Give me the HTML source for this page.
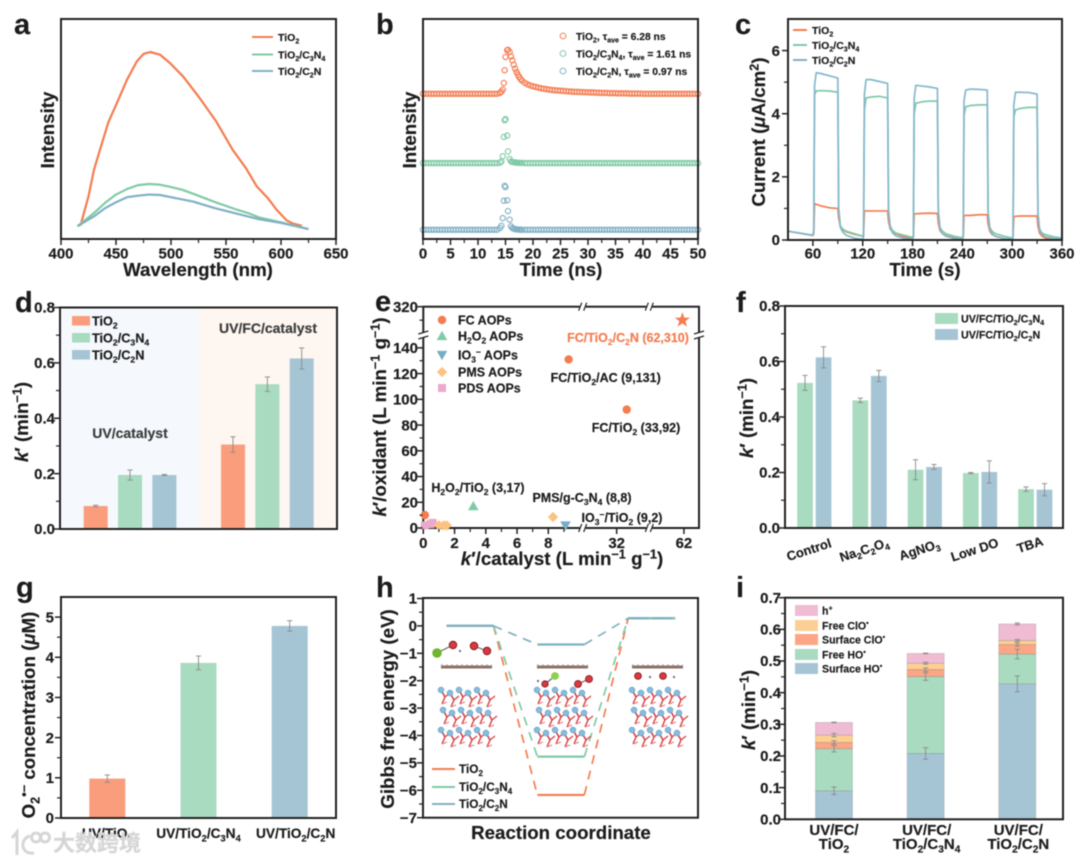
<!DOCTYPE html>
<html lang="en">
<head>
<meta charset="utf-8">
<title>TiO2 composite figure</title>
<style>
html,body{margin:0;padding:0;background:#fff;width:1080px;height:862px;overflow:hidden}
#figure{display:block;filter:blur(.4px)}
#figure text{font-family:"Liberation Sans","Noto Sans CJK SC",sans-serif;font-weight:700;fill:#1c1c1c;stroke:#1c1c1c;stroke-width:.18px}
</style>
</head>
<body>
<svg id="figure" xmlns="http://www.w3.org/2000/svg" width="1080" height="862" viewBox="0 0 1080 862"></svg>
<script>
/* ---------- shared ---------- */
const ORANGE='#f47c50', GREEN='#80caa6', BLUE='#80b0c5';
const BAR_O='#fa9d7c', BAR_G='#a8dbc0', BAR_B='#a6c5d4';

/* ---------- panel a data ---------- */
const aWlTiO2=[415,418,420,425,430,435,443,451,460,469,475,481,490,499,511,526,541,556,568,578,588,596,605,611,619];
const aTiO2=[6,6.5,10.3,19.4,31.5,39.8,53,62,72.4,80.8,84.1,85,83.8,80,73.9,64.1,53.5,40.6,32.3,23.9,18.6,13.3,8.5,7,6];
const aWlC3N4=[415,430,440,450,460,470,480,490,500,510,520,540,560,570,580,600,625];
const aC3N4=[5.8,11.8,16.4,20.2,22.7,24.5,25,24.7,23.6,22.4,20.6,16.8,13.3,11.8,9.8,7.6,4.5];
const aWlC2N=[415,430,440,450,460,470,480,490,500,520,540,560,580,600,625];
const aC2N=[5.8,10.3,14,16.7,19,19.7,20.2,20,19,17,14,11.5,9,7.3,4.5];
const aTicks=[400,450,500,550,600,650];

/* ---------- panel b data ---------- */
const bTimes=[0,0.5,1,1.5,2,2.5,3,3.5,4,4.5,5,5.5,6,6.5,7,7.5,8,8.5,9,9.5,10,10.5,11,11.5,12,12.5,13,13.5,
14,14.25,14.5,14.7,14.85,15,15.3,15.45,15.75,16,16.25,16.5,16.75,17,17.25,17.5,17.75,18,
18.5,19,19.5,20,20.5,21,21.5,22,22.5,23,23.5,24,24.5,25,25.5,26,26.5,27,27.5,28,28.5,29,29.5,30,30.5,31,31.5,32,32.5,33,33.5,34,34.5,35,
35.5,36,36.5,37,37.5,38,38.5,39,39.5,40,40.5,41,41.5,42,42.5,43,43.5,44,44.5,45,45.5,46,46.5,47,47.5,48,48.5,49,49.5,50];
const bTiO2=[66,66,66,66,66,66,66,66,66,66,66,66,66,66,66,66,66,66,66,66,66,66,66,66,66,66,66,66,
66.4,67,67.9,70.9,76.7,82.7,85.8,86,85,83,81.2,79.2,77.4,75.9,74.7,73.6,72.7,72,
71,70.3,69.8,69.4,69.1,68.8,68.5,68.3,68.1,67.9,67.7,67.6,67.5,67.4,67.3,67.2,67.1,67,66.9,66.9,66.8,66.8,66.7,66.7,66.6,66.6,66.5,66.5,66.4,66.4,66.4,66.3,66.3,66.3,
66.2,66.2,66.2,66.2,66.1,66.1,66.1,66.1,66.1,66,66,66,66,66,66,66,66,66,66,66,66,66,66,66,66,66,66,66,66,66];
const bC3N4=[34.5,34.5,34.5,34.5,34.5,34.5,34.5,34.5,34.5,34.5,34.5,34.5,34.5,34.5,34.5,34.5,34.5,34.5,34.5,34.5,34.5,34.5,34.5,34.5,34.5,34.5,34.5,34.5,
34.7,35.2,37.6,46.4,54,54.5,47,39.8,36.4,35.3,35,34.9,34.8,34.7,34.7,34.6,34.6,34.6,
34.5,34.5,34.5,34.5,34.5,34.5,34.5,34.5,34.5,34.5,34.5,34.5,34.5,34.5,34.5,34.5,34.5,34.5,34.5,34.5,34.5,34.5,34.5,34.5,34.5,34.5,34.5,34.5,34.5,34.5,34.5,34.5,34.5,34.5,
34.5,34.5,34.5,34.5,34.5,34.5,34.5,34.5,34.5,34.5,34.5,34.5,34.5,34.5,34.5,34.5,34.5,34.5,34.5,34.5,34.5,34.5,34.5,34.5,34.5,34.5,34.5,34.5,34.5,34.5];
const bC2N=[4.2,4.2,4.2,4.2,4.2,4.2,4.2,4.2,4.2,4.2,4.2,4.2,4.2,4.2,4.2,4.2,4.2,4.2,4.2,4.2,4.2,4.2,4.2,4.2,4.2,4.2,4.2,4.2,
5,6,9.5,17.4,24.2,23.6,17.6,12.7,8.8,5.8,5,4.7,4.5,4.4,4.3,4.3,4.2,4.2,
4.2,4.2,4.2,4.2,4.2,4.2,4.2,4.2,4.2,4.2,4.2,4.2,4.2,4.2,4.2,4.2,4.2,4.2,4.2,4.2,4.2,4.2,4.2,4.2,4.2,4.2,4.2,4.2,4.2,4.2,4.2,4.2,4.2,4.2,
4.2,4.2,4.2,4.2,4.2,4.2,4.2,4.2,4.2,4.2,4.2,4.2,4.2,4.2,4.2,4.2,4.2,4.2,4.2,4.2,4.2,4.2,4.2,4.2,4.2,4.2,4.2,4.2,4.2,4.2];
const bTicks=[0,5,10,15,20,25,30,35,40,45,50];

/* ---------- panel c data ---------- */
const cTimes=[30,60,
61,62,64,70,80,90,91,93,96,100,110,120,
121,122,124,130,140,150,151,153,156,160,170,180,
181,182,184,190,200,210,211,213,216,220,230,240,
241,242,244,250,260,270,271,273,276,280,290,300,
301,302,304,310,320,330,331,333,336,340,350,360];
const cTiO2=[.28,.14,
.2,1.15,1.13,1.08,1.02,1,.7,.42,.32,.26,.18,.12,
.15,.92,.92,.92,.92,.92,.6,.35,.26,.2,.1,.05,
.1,.82,.83,.84,.85,.84,.55,.3,.2,.14,.07,.03,
.08,.77,.78,.78,.8,.8,.5,.28,.17,.12,.05,.02,
.08,.74,.75,.76,.76,.76,.45,.22,.12,.06,.02,0];
const cC3N4=[.28,.15,
.3,4.6,4.72,4.73,4.72,4.68,1,.45,.35,.28,.2,.12,
.2,4.1,4.5,4.53,4.55,4.5,1,.45,.3,.22,.15,.08,
.15,4,4.33,4.37,4.4,4.4,.95,.4,.28,.2,.12,.07,
.12,3.95,4.22,4.26,4.28,4.28,.9,.4,.27,.2,.12,.06,
.1,3.9,4.12,4.17,4.2,4.2,.85,.35,.22,.17,.1,.06];
const cC2N=[.28,.15,
.3,4.9,5.3,5.27,5.2,5.13,1,.4,.25,.15,.06,.02,
.1,4.6,5.08,5.08,5.02,4.96,.95,.38,.22,.13,.05,.02,
.1,4.5,4.9,4.88,4.85,4.8,.9,.35,.2,.12,.05,.02,
.1,4.4,4.75,4.78,4.77,4.75,.88,.33,.2,.11,.05,.02,
.1,4.3,4.68,4.68,4.67,4.62,.85,.3,.18,.1,.05,.04];
const cXTicks=[60,120,180,240,300,360];
const cYTicks=[0,2,4,6];

/* ---------- panel d data ---------- */
const dSlots=[0,1,2,4,5,6];
const dValues=[.083,.195,.195,.305,.523,.616];
const dErrors=[.003,.018,.002,.028,.026,.038];
const dSeriesNames=['uv-tio2','uv-tio2-c3n4','uv-tio2-c2n','fc-tio2','fc-tio2-c3n4','fc-tio2-c2n'];
const dYTicks=[0,.2,.4,.6,.8];

/* ---------- panel e data ---------- */
const eFcX=[0.1,9.3,36.5], eFcY=[10,131,92];
const eStarX=[61.3], eStarY=[310];
const eH2o2X=[3.2], eH2o2Y=[17];
const eIo3X=[9.1], eIo3Y=[2];
const ePmsX=[8.3,1,1.3,1.5], ePmsY=[8.5,2,2,2];
const ePdsX=[0.1,0.45,0.6], ePdsY=[2,3,4];
const eXTicks=[0,2,4,6,8,32,62];
const eYTicks=[0,20,40,60,80,100,120,140,320];

/* ---------- panel f data ---------- */
const fCategories=['Control','Na_{2}C_{2}O_{4}','AgNO_{3}','Low DO','TBA'];
const fC3N4=[.523,.46,.21,.198,.14];
const fC3N4Err=[.027,.008,.036,.002,.008];
const fC2N=[.615,.548,.22,.202,.138];
const fC2NErr=[.038,.02,.009,.04,.022];
const fYTicks=[0,.2,.4,.6,.8];

/* ---------- panel g data ---------- */
const gCategories=['UV/TiO_{2}','UV/TiO_{2}/C_{3}N_{4}','UV/TiO_{2}/C_{2}N'];
const gValues=[.98,3.86,4.78];
const gErrors=[.09,.17,.13];
const gYTicks=[0,1,2,3,4,5];

/* ---------- panel h data ---------- */
const hStates=[0,1,2];
const hTiO2=[0,-6.17,.28];
const hC3N4=[0,-4.77,.28];
const hC2N=[0,-.68,.28];
const hYTicks=[1,0,-1,-2,-3,-4,-5,-6,-7];
const hYLabels=['1','0','−1','−2','−3','−4','−5','−6','−7'];

/* ---------- panel i data ---------- */
const iCategories=[['UV/FC/','TiO_{2}'],['UV/FC/','TiO_{2}/C_{3}N_{4}'],['UV/FC/','TiO_{2}/C_{2}N']];
const iSurfaceHO=[.09,.208,.428];
const iFreeHO=[.133,.243,.094];
const iSurfaceClO=[.02,.022,.03];
const iFreeClO=[.023,.02,.013];
const iHole=[.04,.031,.052];
const iErrSurfaceHO=[.012,.018,.025];
const iErrFreeHO=[.01,.012,.015];
const iErrSurfaceClO=[.005,.005,.005];
const iErrFreeClO=[.005,.003,.003];
const iErrHole=[.001,.001,.003];
const iYTicks=[0,.1,.2,.3,.4,.5,.6,.7];

/* ---------- helpers ---------- */
const svg=document.getElementById('figure');
const NS='http://www.w3.org/2000/svg';
function mk(tag,attrs,parent){
  const el=document.createElementNS(NS,tag);
  for(const k in attrs) el.setAttribute(k,attrs[k]);
  if(parent) parent.appendChild(el);
  return el;
}
function scale(d0,d1,r0,r1){return v=>r0+(v-d0)*(r1-r0)/(d1-d0);}
function group(parent,name){
  const g=mk('g',{},parent);
  
  
  return g;
}
function T(parent,name,x,y,str,size,o){
  o=o||{};
  const el=mk('text',{x:x,y:y,'font-size':size,'text-anchor':o.anchor||'start'},parent);
  
  
  if(o.fill){el.style.fill=o.fill;el.style.stroke=o.fill;}
  if(o.rot!==undefined) el.setAttribute('transform','rotate('+o.rot+' '+x+' '+y+')');
  const re=/_\{(.*?)\}|\^\{(.*?)\}|\*\{(.*?)\}|([^_^*]+)/g;
  let m,off=0;
  while((m=re.exec(str))){
    const ts=mk('tspan',{},el);
    let target=0;
    if(m[1]!==undefined){ts.textContent=m[1];ts.setAttribute('font-size',size*.68);target=size*.24;}
    else if(m[2]!==undefined){ts.textContent=m[2];ts.setAttribute('font-size',size*.68);target=-size*.36;}
    else if(m[3]!==undefined){ts.textContent=m[3];ts.setAttribute('font-style','italic');}
    else ts.textContent=m[4];
    if(target!==off) ts.setAttribute('dy',target-off);
    off=target;
  }
  return el;
}
function L(parent,name,x1,y1,x2,y2,stroke,w,dash){
  const el=mk('line',{x1:x1,y1:y1,x2:x2,y2:y2,stroke:stroke,'stroke-width':w},parent);
  if(dash) el.setAttribute('stroke-dasharray',dash);
  
  
  return el;
}
function R(parent,name,x,y,w,h,fill){
  const el=mk('rect',{x:x,y:y,width:w,height:h,fill:fill},parent);
  
  
  return el;
}
function frame(parent,x0,y0,x1,y1){
  const el=mk('rect',{x:x0,y:y0,width:x1-x0,height:y1-y0,fill:'none',stroke:'#222','stroke-width':2},parent);
  
  
  return el;
}
function xAxis(g,sx,majors,labels,minors,yBase,labelY,size){
  majors.forEach((v,i)=>{
    L(g,'x-tick',sx(v),yBase,sx(v),yBase+5,'#222',1.5);
    if(labels) T(g,'x-tick-label',sx(v),labelY,labels[i],size||15,{anchor:'middle'});
  });
  (minors||[]).forEach(v=>L(g,'x-minor-tick',sx(v),yBase,sx(v),yBase+3,'#222',1.2));
}
function yAxis(g,sy,majors,labels,minors,xBase,labelX,size){
  majors.forEach((v,i)=>{
    L(g,'y-tick',xBase,sy(v),xBase-5,sy(v),'#222',1.5);
    T(g,'y-tick-label',labelX,sy(v)+5.2,labels[i],size||15,{anchor:'end'});
  });
  (minors||[]).forEach(v=>L(g,'y-minor-tick',xBase,sy(v),xBase-3,sy(v),'#222',1.2));
}
function poly(g,name,xs,ys,sx,sy,color,w){
  const pts=xs.map((x,i)=>sx(x).toFixed(2)+','+sy(ys[i]).toFixed(2)).join(' ');
  const el=mk('polyline',{points:pts,fill:'none',stroke:color,'stroke-width':w,'stroke-linejoin':'round'},g);
  
  
  return el;
}
function errBar(g,name,x,yLo,yHi){
  const e=group(g,name);
  L(e,'error-stem',x,yLo,x,yHi,'#8a8a8a',.9);
  L(e,'error-cap-top',x-2.6,yHi,x+2.6,yHi,'#8a8a8a',.9);
  L(e,'error-cap-bottom',x-2.6,yLo,x+2.6,yLo,'#8a8a8a',.9);
}
function bar(g,name,cx,w,yTop,yBase,fill){
  return R(g,name,cx-w/2,yTop,w,yBase-yTop,fill);
}
function legendLine(g,name,x1,x2,y,color,label,tx,size){
  const e=group(g,name);
  L(e,'legend-swatch',x1,y,x2,y,color,2);
  T(e,'legend-label',tx,y+size*.36,label,size);
}
function legendBox(g,name,x,y,w,h,color,label,tx,size){
  const e=group(g,name);
  R(e,'legend-swatch',x,y,w,h,color);
  T(e,'legend-label',tx,y+h/2+size*.36,label,size);
}
function marker(g,name,type,x,y,s,fill){
  let el;
  if(type==='circle') el=mk('circle',{cx:x,cy:y,r:s,fill:fill},g);
  else if(type==='square') el=mk('rect',{x:x-s,y:y-s,width:2*s,height:2*s,fill:fill},g);
  else{
    let p;
    if(type==='up') p=[[0,-s*1.1],[s*1.1,s*.85],[-s*1.1,s*.85]];
    else if(type==='down') p=[[0,s*1.1],[s*1.1,-s*.85],[-s*1.1,-s*.85]];
    else if(type==='diamond') p=[[0,-s*1.2],[s*1.2,0],[0,s*1.2],[-s*1.2,0]];
    else{
      p=[];
      for(let i=0;i<10;i++){
        const r=i%2?s*.5:s*1.25,a=-Math.PI/2+i*Math.PI/5;
        p.push([r*Math.cos(a),r*Math.sin(a)]);
      }
    }
    el=mk('polygon',{points:p.map(q=>(x+q[0]).toFixed(2)+','+(y+q[1]).toFixed(2)).join(' '),fill:fill},g);
  }
  
  
  return el;
}
const LET=29, TITLE=18.7;

/* ---------- panel a ---------- */
(function(){
  const g=group(svg,'panel-a');
  const sx=scale(400,650,61,336), sy=scale(0,100,239,19);
  T(g,'panel-label-a',14,34,'a',LET);
  poly(g,'series-tio2',aWlTiO2,aTiO2,sx,sy,ORANGE,2.2);
  poly(g,'series-tio2-c3n4',aWlC3N4,aC3N4,sx,sy,GREEN,2.2);
  poly(g,'series-tio2-c2n',aWlC2N,aC2N,sx,sy,BLUE,2.2);
  frame(g,61,19,336,239);
  xAxis(g,sx,aTicks,aTicks.map(String),[425,475,525,575,625],240,258.5);
  T(g,'x-axis-title',198,276,'Wavelength (nm)',TITLE,{anchor:'middle'});
  T(g,'y-axis-title',54,130,'Intensity',TITLE,{anchor:'middle',rot:-90});
  legendLine(g,'legend-tio2',252,273,37,ORANGE,'TiO_{2}',278,10.5);
  legendLine(g,'legend-tio2-c3n4',252,273,54.5,GREEN,'TiO_{2}/C_{3}N_{4}',278,10.5);
  legendLine(g,'legend-tio2-c2n',252,273,71,BLUE,'TiO_{2}/C_{2}N',278,10.5);
})();

/* ---------- panel b ---------- */
(function(){
  const g=group(svg,'panel-b');
  const sx=scale(0,50,423,698), sy=scale(0,100,239,19);
  T(g,'panel-label-b',376,34,'b',LET);
  function scatter(name,vals,color){
    const s=group(g,name);
    bTimes.forEach((t,i)=>{
      const c=mk('circle',{cx:sx(t),cy:sy(vals[i]),r:2.6,fill:'none',stroke:color,'stroke-width':1.15},s);
      
      
    });
  }
  scatter('series-tio2',bTiO2,ORANGE);
  scatter('series-tio2-c3n4',bC3N4,GREEN);
  scatter('series-tio2-c2n',bC2N,BLUE);
  frame(g,423,19,698,239);
  xAxis(g,sx,bTicks,bTicks.map(String),[2.5,7.5,12.5,17.5,22.5,27.5,32.5,37.5,42.5,47.5],240,258.5);
  T(g,'x-axis-title',561,276,'Time (ns)',TITLE,{anchor:'middle'});
  T(g,'y-axis-title',416,130,'Intensity',TITLE,{anchor:'middle',rot:-90});
  [['legend-tio2',36,ORANGE,'TiO_{2}, τ_{ave} = 6.28 ns'],
   ['legend-tio2-c3n4',53.5,GREEN,'TiO_{2}/C_{3}N_{4}, τ_{ave} = 1.61 ns'],
   ['legend-tio2-c2n',71,BLUE,'TiO_{2}/C_{2}N, τ_{ave} = 0.97 ns']].forEach(d=>{
    const e=group(g,d[0]);
    const c=mk('circle',{cx:563,cy:d[1],r:2.9,fill:'none',stroke:d[2],'stroke-width':1},e);
    
    
    T(e,'legend-label',576,d[1]+3.8,d[3],10.3);
  });
})();

/* ---------- panel c ---------- */
(function(){
  const g=group(svg,'panel-c');
  const sx=scale(30,360,788,1062), sy=scale(0,7,240,19);
  T(g,'panel-label-c',735,34,'c',LET);
  poly(g,'series-tio2',cTimes,cTiO2,sx,sy,ORANGE,1.7);
  poly(g,'series-tio2-c3n4',cTimes,cC3N4,sx,sy,GREEN,1.7);
  poly(g,'series-tio2-c2n',cTimes,cC2N,sx,sy,'#86b8cc',1.7);
  frame(g,788,19,1062,240);
  xAxis(g,sx,cXTicks,cXTicks.map(String),[90,150,210,270,330],241,258.5);
  yAxis(g,sy,cYTicks,cYTicks.map(String),[1,3,5],787,780);
  T(g,'x-axis-title',925,276,'Time (s)',TITLE,{anchor:'middle'});
  T(g,'y-axis-title',765,132,'Current (*{μ}A/cm^{2})',TITLE,{anchor:'middle',rot:-90});
  legendLine(g,'legend-tio2',793,807,30,ORANGE,'TiO_{2}',812,10.5);
  legendLine(g,'legend-tio2-c3n4',793,807,45,GREEN,'TiO_{2}/C_{3}N_{4}',812,10.5);
  legendLine(g,'legend-tio2-c2n',793,807,60,BLUE,'TiO_{2}/C_{2}N',812,10.5);
})();

/* ---------- panel d ---------- */
(function(){
  const g=group(svg,'panel-d');
  const sx=scale(0,6,95.7,301.7), sy=scale(0,.8,529,307.5);
  R(g,'uv-catalyst-background',60,307.5,138.5,221.5,'#f5f8fd');
  R(g,'uv-fc-catalyst-background',198.5,307.5,138.5,221.5,'#fdf6f1');
  T(g,'panel-label-d',15,312,'d',LET);
  const cols=[BAR_O,BAR_G,BAR_B,BAR_O,BAR_G,BAR_B];
  dSlots.forEach((s,i)=>{
    bar(g,'bar-'+dSeriesNames[i],sx(s),24,sy(dValues[i]),sy(0),cols[i]);
    errBar(g,'error-'+dSeriesNames[i],sx(s),sy(dValues[i]-dErrors[i]),sy(dValues[i]+dErrors[i]));
  });
  frame(g,60,307.5,337,529);
  yAxis(g,sy,dYTicks,dYTicks.map(v=>v.toFixed(1)),[.1,.3,.5,.7],59,55);
  T(g,'y-axis-title',28,422,"*{k}′ (min^{−1})",TITLE,{anchor:'middle',rot:-90});
  T(g,'group-label-uv-catalyst',130,438,'UV/catalyst',14,{anchor:'middle',fill:'#3c3c3c'});
  T(g,'group-label-uv-fc-catalyst',268,333,'UV/FC/catalyst',14,{anchor:'middle',fill:'#3c3c3c'});
  legendBox(g,'legend-tio2',72,316,18,9.5,BAR_O,'TiO_{2}',92,12.7);
  legendBox(g,'legend-tio2-c3n4',72,333,18,9.5,BAR_G,'TiO_{2}/C_{3}N_{4}',92,12.7);
  legendBox(g,'legend-tio2-c2n',72,350,18,9.5,BAR_B,'TiO_{2}/C_{2}N',92,12.7);
})();

/* ---------- panel e ---------- */
(function(){
  const g=group(svg,'panel-e');
  const X0=423.3,X1=699,Y0=528,Y1=306.7;
  const sxA=scale(0,10.2,X0,582.7), sxB=scale(16.8,46.6,582.7,649.3), sxC=scale(46.6,68.7,649.3,X1);
  const sx=v=>v<=10.2?sxA(v):(v<=46.6?sxB(v):sxC(v));
  const syA=scale(0,150,Y0,335), syB=scale(299,320,335,Y1);
  const sy=v=>v<=150?syA(v):syB(v);
  T(g,'panel-label-e',375,311,'e',LET);
  frame(g,X0,Y1,X1,Y0);
  [582.7,649.3].forEach(x=>{[Y0,Y1].forEach(y=>{
    R(g,'x-axis-break-gap',x-3,y-2,6,4,'#fff');
    L(g,'x-axis-break-mark',x-4,y+4,x-1,y-4,'#222',1.2);
    L(g,'x-axis-break-mark',x+1,y+4,x+4,y-4,'#222',1.2);
  });});
  [X0,X1].forEach(x=>{
    R(g,'y-axis-break-gap',x-2,332.5,4,5,'#fff');
    L(g,'y-axis-break-mark',x-5,334,x+5,331,'#222',1.2);
    L(g,'y-axis-break-mark',x-5,339,x+5,336,'#222',1.2);
  });
  const s=group(g,'scatter-points');
  ePdsX.forEach((x,i)=>marker(s,'point-pds-aop','square',sx(x),sy(ePdsY[i]),4,'#eba9cc'));
  ePmsX.forEach((x,i)=>marker(s,'point-pms-aop','diamond',sx(x),sy(ePmsY[i]),4.3,'#fdc27f'));
  eH2o2X.forEach((x,i)=>marker(s,'point-h2o2-aop','up',sx(x),sy(eH2o2Y[i]),4.8,'#7fcba6'));
  eIo3X.forEach((x,i)=>marker(s,'point-io3-aop','down',sx(x),sy(eIo3Y[i]),4.8,'#78aec5'));
  eFcX.forEach((x,i)=>marker(s,'point-fc-aop','circle',sx(x),sy(eFcY[i]),4.2,ORANGE));
  eStarX.forEach((x,i)=>marker(s,'point-fc-tio2-c2n','star',sx(x),sy(eStarY[i]),6.4,ORANGE));
  xAxis(g,sx,eXTicks,eXTicks.map(String),[1,3,5,7,9],529,548);
  yAxis(g,sy,eYTicks,eYTicks.map(String),[10,30,50,70,90,110,130,310],422.5,418);
  T(g,'x-axis-title',562,565,"*{k}′/catalyst (L min^{−1} g^{−1})",TITLE,{anchor:'middle'});
  T(g,'y-axis-title',386,417,"*{k}′/oxidant (L min^{−1} g^{−1})",TITLE,{anchor:'middle',rot:-90});
  T(g,'label-fc-tio2-c2n',628,342,'FC/TiO_{2}/C_{2}N (62,310)',12.5,{anchor:'middle',fill:ORANGE});
  T(g,'label-fc-tio2-ac',605.7,382,'FC/TiO_{2}/AC (9,131)',12.5,{anchor:'middle'});
  T(g,'label-fc-tio2',636,432,'FC/TiO_{2} (33,92)',12.5,{anchor:'middle'});
  T(g,'label-h2o2-tio2',478,492,'H_{2}O_{2}/TiO_{2} (3,17)',12.5,{anchor:'middle'});
  T(g,'label-pms-g-c3n4',582,502,'PMS/g-C_{3}N_{4} (8,8)',12.5,{anchor:'middle'});
  T(g,'label-io3-tio2',622,522,'IO_{3}^{−}/TiO_{2} (9,2)',12.5,{anchor:'middle'});
  const lg=group(g,'legend');
  marker(lg,'legend-swatch-fc','circle',442,320,4.2,ORANGE);
  T(lg,'legend-label-fc',458,324.5,'FC AOPs',12.5);
  marker(lg,'legend-swatch-h2o2','up',442,336,4.8,'#7fcba6');
  T(lg,'legend-label-h2o2',458,340.5,'H_{2}O_{2} AOPs',12.5);
  marker(lg,'legend-swatch-io3','down',442,355,4.8,'#78aec5');
  T(lg,'legend-label-io3',458,359.5,'IO_{3}^{−} AOPs',12.5);
  marker(lg,'legend-swatch-pms','diamond',442,372,4.3,'#fdc27f');
  T(lg,'legend-label-pms',458,376.5,'PMS AOPs',12.5);
  marker(lg,'legend-swatch-pds','square',442,388,4,'#eba9cc');
  T(lg,'legend-label-pds',458,392.5,'PDS AOPs',12.5);
})();

/* ---------- panel f ---------- */
(function(){
  const g=group(svg,'panel-f');
  const sx=scale(0,4,814.3,1035.3), sy=scale(0,.8,528,306);
  T(g,'panel-label-f',736,312,'f',LET);
  fCategories.forEach((c,i)=>{
    const x1=sx(i)-9.25,x2=sx(i)+9.25;
    bar(g,'bar-c3n4',x1,15.7,sy(fC3N4[i]),sy(0),BAR_G);
    errBar(g,'error-c3n4',x1,sy(fC3N4[i]-fC3N4Err[i]),sy(fC3N4[i]+fC3N4Err[i]));
    bar(g,'bar-c2n',x2,15.7,sy(fC2N[i]),sy(0),BAR_B);
    errBar(g,'error-c2n',x2,sy(fC2N[i]-fC2NErr[i]),sy(fC2N[i]+fC2NErr[i]));
    T(g,'x-category-label',sx(i)-4,sy(0)+26-(i===4?5:0),c,13,{anchor:'middle',rot:-18});
  });
  frame(g,785,306,1063,528);
  yAxis(g,sy,fYTicks,fYTicks.map(v=>v.toFixed(1)),[.1,.3,.5,.7],784,780);
  T(g,'y-axis-title',753,418,"*{k}′ (min^{−1})",TITLE,{anchor:'middle',rot:-90});
  legendBox(g,'legend-c3n4',935,313,23,11,BAR_G,'UV/FC/TiO_{2}/C_{3}N_{4}',961,10.7);
  legendBox(g,'legend-c2n',935,329,23,11,BAR_B,'UV/FC/TiO_{2}/C_{2}N',961,10.7);
})();

/* ---------- panel g ---------- */
(function(){
  const g=group(svg,'panel-g');
  const sx=scale(0,2,107.3,289.7), sy=scale(0,5.5,818,597);
  const cols=[BAR_O,BAR_G,BAR_B];
  T(g,'panel-label-g',16,597,'g',LET);
  gCategories.forEach((c,i)=>{
    bar(g,'bar-'+i,sx(i),36,sy(gValues[i]),sy(0),cols[i]);
    errBar(g,'error-'+i,sx(i),sy(gValues[i]-gErrors[i]),sy(gValues[i]+gErrors[i]));
    T(g,'x-category-label',sx(i)+(i===2?6:0),838,c,13.7,{anchor:'middle'});
  });
  frame(g,61,597,336,818);
  yAxis(g,sy,gYTicks,gYTicks.map(String),[.5,1.5,2.5,3.5,4.5],60,54);
  T(g,'y-axis-title',35,715,"O_{2}^{•−} concentration (*{μ}M)",TITLE,{anchor:'middle',rot:-90});
})();

/* ---------- panel h ---------- */
(function(){
  const g=group(svg,'panel-h');
  const sx=scale(0,2,470,651.7), sy=scale(1,-7,598.5,817.7);
  const HW=23.5;
  T(g,'panel-label-h',376,597,'h',LET);
  function levels(name,vals,color,lastDash){
    const s=group(g,name);
    hStates.forEach((st,i)=>{
      const el=L(s,'energy-level',sx(st)-HW,sy(vals[i]),sx(st)+HW,sy(vals[i]),color,2.2);
      if(i===2&&lastDash) el.setAttribute('stroke-dasharray',lastDash);
      if(i<hStates.length-1) L(s,'energy-connector',sx(st)+HW,sy(vals[i]),sx(hStates[i+1])-HW,sy(vals[i+1]),color,1.7,'9 7');
    });
  }
  levels('series-tio2',hTiO2,ORANGE);
  levels('series-tio2-c3n4',hC3N4,GREEN);
  levels('series-c2n',hC2N,BLUE,'20 4');
  function lattice(x,y){
    const l=group(g,'crystal-structure');
    L(l,'catalyst-layer',x,y-20,x+51,y-20,'#8d7364',3);
    L(l,'catalyst-layer-highlight',x,y-22,x+51,y-22,'#b9b3cc',1.2,'2 3');
    [0,1,2].forEach(r=>{
      for(let i=0;i<6;i++){
        const cx=x+i*9+(r%2?2:0),cy=y+3+r*20+(i%2?3:0);
        L(l,'oxygen-bond',cx,cy,cx+4,cy+7,'#d8474c',1.7);
        L(l,'oxygen-bond',cx+4,cy+7,cx+9,cy+3,'#d8474c',1.4);
        L(l,'oxygen-bond',cx+4,cy+7,cx+1,cy+14,'#d8474c',1.5);
        L(l,'oxygen-bond',cx+1,cy+14,cx+6,cy+12,'#e47a7d',1.2);
      }
    });
    [0,1,2].forEach(r=>{
      for(let i=0;i<6;i++){
        const c=mk('circle',{cx:x+i*9+(r%2?2:0),cy:y+3+r*20+(i%2?3:0),r:2.9,fill:'#86bcdc',stroke:'#5f9fc8','stroke-width':.6},l);
        
        
      }
    });
  }
  lattice(441,687);lattice(537,687);lattice(632,687);
  function atom(x,y,r,fill,name){
    const c=mk('circle',{cx:x,cy:y,r:r,fill:fill,stroke:'#7a1015','stroke-width':fill==='#d83a3f'?.8:0},g);
    
    
  }
  L(g,'bond',437,653,453,645,'#666',1.2);
  L(g,'bond',474,646,487,651,'#666',1.2);
  atom(437,653,4.8,'#6fb52e','chlorine-atom');
  atom(453,645,3.8,'#d83a3f','oxygen-atom');
  atom(460,651,1.1,'#666','hydrogen-atom');
  atom(474,646,3.8,'#d83a3f','oxygen-atom');
  atom(487,651,3.8,'#d83a3f','oxygen-atom');
  L(g,'bond',545,684,555,676,'#666',1.2);
  L(g,'bond',578,684,589,679,'#666',1.2);
  atom(555,676,3.9,'#8fcf4d','chlorine-atom');
  atom(545,684,3.2,'#d83a3f','oxygen-atom');
  atom(538,681,1.1,'#666','hydrogen-atom');
  atom(578,684,3.5,'#d83a3f','oxygen-atom');
  atom(589,679,3.5,'#d83a3f','oxygen-atom');
  atom(638,676,3.4,'#d83a3f','oxygen-atom');
  atom(650,677,1.1,'#666','hydrogen-atom');
  atom(663,676,3.4,'#d83a3f','oxygen-atom');
  atom(674,677,1.1,'#666','hydrogen-atom');
  frame(g,423,598,698,817.7);
  yAxis(g,sy,hYTicks,hYLabels,[.5,-.5,-1.5,-2.5,-3.5,-4.5,-5.5,-6.5],422,417);
  T(g,'x-axis-title',561,839,'Reaction coordinate',TITLE,{anchor:'middle'});
  T(g,'y-axis-title',394,709,'Gibbs free energy (eV)',TITLE,{anchor:'middle',rot:-90});
  legendLine(g,'legend-tio2',432,455,769,ORANGE,'TiO_{2}',459,11.8);
  legendLine(g,'legend-tio2-c3n4',432,455,787,GREEN,'TiO_{2}/C_{3}N_{4}',459,11.8);
  legendLine(g,'legend-tio2-c2n',432,455,804,BLUE,'TiO_{2}/C_{2}N',459,11.8);
})();

/* ---------- panel i ---------- */
(function(){
  const g=group(svg,'panel-i');
  const sx=scale(0,2,834,1017.3), sy=scale(0,.7,819.3,597.7);
  T(g,'panel-label-i',736,597,'i',LET);
  const stacks=[
    ['surface-ho',iSurfaceHO,iErrSurfaceHO,BAR_B],
    ['free-ho',iFreeHO,iErrFreeHO,BAR_G],
    ['surface-clo',iSurfaceClO,iErrSurfaceClO,'#fca685'],
    ['free-clo',iFreeClO,iErrFreeClO,'#fdcf94'],
    ['hole',iHole,iErrHole,'#f0bcd4']
  ];
  iCategories.forEach((c,i)=>{
    let base=0;
    stacks.forEach(s=>{
      const top=base+s[1][i];
      const b=bar(g,'stack-'+s[0],sx(i),37,sy(top),sy(base),s[3]);
      b.setAttribute('stroke','rgba(90,90,90,.28)');
      b.setAttribute('stroke-width','.7');
      base=top;
    });
    base=0;
    stacks.forEach(s=>{
      const top=base+s[1][i];
      errBar(g,'error-'+s[0],sx(i),sy(top-s[2][i]),sy(top+s[2][i]));
      base=top;
    });
    T(g,'x-category-label',sx(i)+(i===0?0:1),835,c[0],15,{anchor:'middle'});
    T(g,'x-category-label',sx(i)+(i===0?0:1),849,c[1],15,{anchor:'middle'});
  });
  frame(g,785,597.7,1063,819.3);
  yAxis(g,sy,iYTicks,iYTicks.map(v=>v.toFixed(1)),[.05,.15,.25,.35,.45,.55,.65],784,781);
  T(g,'y-axis-title',755,710,"*{k}′ (min^{−1})",TITLE,{anchor:'middle',rot:-90});
  legendBox(g,'legend-hole',795,605,23,11,'#f0bcd4','h^{+}',822,10.6);
  legendBox(g,'legend-free-clo',795,620,23,11,'#fdcf94','Free ClO^{•}',822,10.6);
  legendBox(g,'legend-surface-clo',795,634,23,11,'#fca685','Surface ClO^{•}',822,10.6);
  legendBox(g,'legend-free-ho',795,649,23,11,BAR_G,'Free HO^{•}',822,10.6);
  legendBox(g,'legend-surface-ho',795,663,23,11,BAR_B,'Surface HO^{•}',822,10.6);
})();

/* ---------- watermark ---------- */
(function(){
  const g=group(svg,'watermark');
  const logo=mk('path',{d:'M12 838 L17 832 L17 855 M30 836 C20 838 20 855 34 853 M36 833 a4.5 4.5 0 1 0 .1 0 M45 833 a4.5 4.5 0 1 0 .1 0',fill:'none',stroke:'#d6d6d6','stroke-width':3},g);
  
  
  const t=T(g,'watermark-text',53,851,'大数跨境',22,{fill:'#d4d4d4'});
  t.style.stroke='#e4e4e4';
  t.style.strokeWidth='.6px';
})();
</script>
</body>
</html>
